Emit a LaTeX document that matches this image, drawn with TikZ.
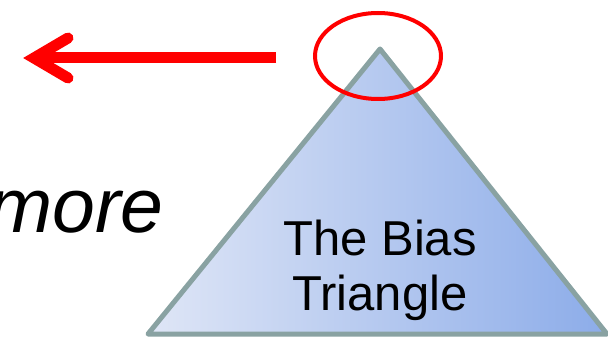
\documentclass[tikz,border=0pt]{standalone}
\usepackage{fontspec}
\setmainfont{Liberation Sans}
\usepackage{xcolor}
\definecolor{biasleft}{RGB}{223,230,246}
\definecolor{biasright}{RGB}{140,172,233}
\definecolor{biasedge}{RGB}{137,162,162}
\tikzset{
  redline/.style={draw=red,line width=11pt},
  biasfill/.style={left color=biasleft,right color=biasright,draw=biasedge,line width=5pt,line join=round}
}

\begin{document}
\begin{tikzpicture}[x=1pt,y=-1pt]
            \useasboundingbox (0,0) rectangle (608,342);
            \coordinate (apex) at (380,49);
            \coordinate (bl) at (148,334);
            \coordinate (br) at (607,334);
            \shade[biasfill] (apex) -- (br) -- (bl) -- cycle;
            \node[align=center,font=\fontsize{49}{55}\selectfont,anchor=base,inner sep=0] at (380,310) (bias) {The Bias\\Triangle};
            \node[font=\fontsize{77}{80}\selectfont\itshape,anchor=base east,inner sep=0] at (164,232) (more) {more};
            \coordinate (tail) at (276,58);
            \coordinate (tip) at (34,58);
            \draw[redline] (tail) -- (tip);
            \draw[redline,line cap=round] (68,38) -- (tip) -- (68,78);
            \draw[red,line width=4pt] (378,56) ellipse [x radius=63,y radius=43];
          \end{tikzpicture}
\end{document}
